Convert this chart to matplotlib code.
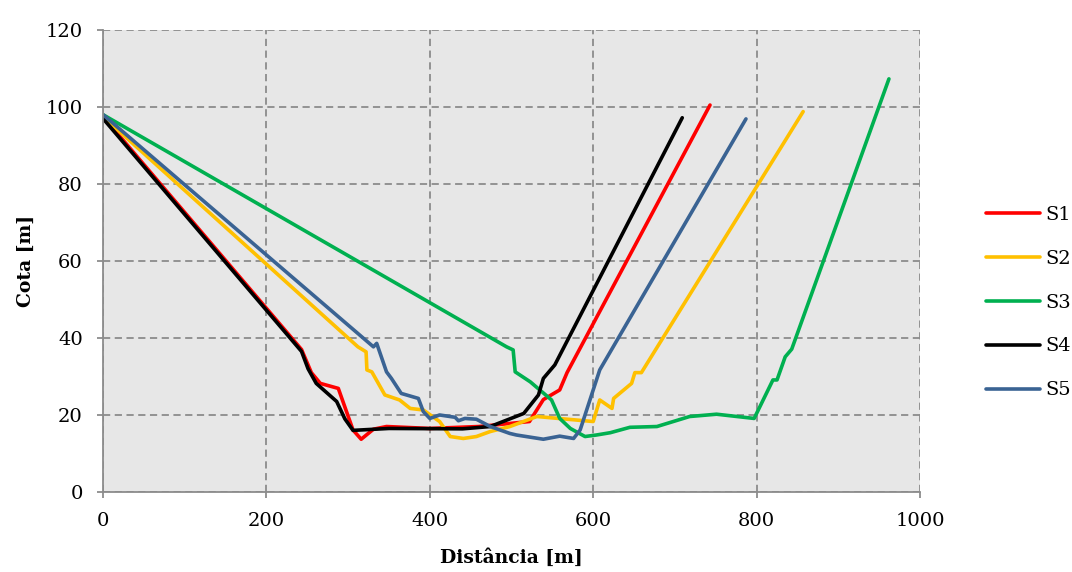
import matplotlib.pyplot as plt

plt.rcParams['font.family'] = ['DejaVu Serif']

# distance [m], elevation [m] for each section
s1_x = [0, 243, 255, 266, 288, 306, 316, 331, 347, 400, 460, 522, 539, 559, 568, 743]
s1_y = [97.5, 37, 31, 28.2, 26.9, 16.1, 13.7, 16.3, 17, 16.5, 17, 18.3, 24, 26.5, 31, 100.5]

s2_x = [0, 312, 322, 323, 329, 345, 363, 376, 392, 412, 425, 441, 457, 474, 498, 531,
        600, 608, 623, 625, 647, 651, 659, 857]
s2_y = [97.5, 37.7, 36.4, 31.7, 31.2, 25.2, 23.9, 21.7, 21.3, 18.3, 14.4, 13.9, 14.4, 15.7, 17, 19.6,
        18.3, 23.9, 21.7, 24.3, 28.2, 31, 31, 98.8]

s3_x = [0, 494, 502, 504.5, 523, 549, 559, 572, 590, 604, 621, 645, 678, 718, 751, 797,
        820, 825, 835, 843, 962]
s3_y = [98, 37.7, 36.9, 31.2, 28.6, 23.9, 19.1, 16.5, 14.4, 14.8, 15.4, 16.8, 17, 19.6, 20.2, 19.1,
        29.1, 29.1, 35.1, 37.1, 107.3]

s4_x = [0, 243, 251, 261, 286, 296, 306, 350, 440, 474, 515, 533, 539, 553, 709]
s4_y = [97, 36.5, 32, 28.2, 23.5, 19, 16, 16.5, 16.4, 17, 20.4, 25.2, 29.5, 33, 97.2]

s5_x = [0, 331, 335, 347, 353, 365, 386, 392, 400, 412, 431, 435, 443, 457, 474, 498,
        506, 539, 559, 576, 584, 608, 787]
s5_y = [98, 37.7, 38.6, 31.2, 29.5, 25.6, 24.3, 20.9, 19.1, 20, 19.4, 18.5, 19.1, 18.9, 17, 15.2,
        14.8, 13.7, 14.5, 13.9, 16.1, 31.7, 96.9]

series = [
    ("S1", s1_x, s1_y, "#ff0000"),
    ("S2", s2_x, s2_y, "#ffc000"),
    ("S3", s3_x, s3_y, "#00b050"),
    ("S4", s4_x, s4_y, "#000000"),
    ("S5", s5_x, s5_y, "#3a6393"),
]

fig = plt.figure(figsize=(10.72, 5.72), dpi=100)
ax = fig.add_axes([0.0961, 0.1399, 0.7621, 0.8077])
ax.set_facecolor("#e7e7e7")

for name, xs, ys, col in series:
    ax.plot(xs, ys, color=col, lw=2.6, label=name, solid_capstyle='round')

ax.set_xlim(0, 1000)
ax.set_ylim(0, 120)
ax.set_xticks(range(0, 1001, 200))
ax.set_yticks(range(0, 121, 20))
ax.grid(True, color="#8c8c8c", ls=(0, (4, 2.5)), lw=1.3)
ax.set_axisbelow(True)

for side in ("top", "right"):
    ax.spines[side].set_visible(False)
for side in ("left", "bottom"):
    ax.spines[side].set_color("#8c8c8c")
    ax.spines[side].set_linewidth(1.3)
ax.tick_params(direction="out", length=4.5, width=1.3, color="#8c8c8c",
               labelsize=14, pad=10)

ax.set_xlabel("Distância [m]", fontsize=13.5, fontweight="bold", labelpad=13)
ax.set_ylabel("Cota [m]", fontsize=13.5, fontweight="bold", labelpad=8)

fig.legend(loc="center left", bbox_to_anchor=(0.9198, 0.471), frameon=False,
           borderpad=0, borderaxespad=0,
           fontsize=14, handlelength=2.78, handletextpad=0.26, labelspacing=1.33)

fig.savefig("out.png", dpi=100)
